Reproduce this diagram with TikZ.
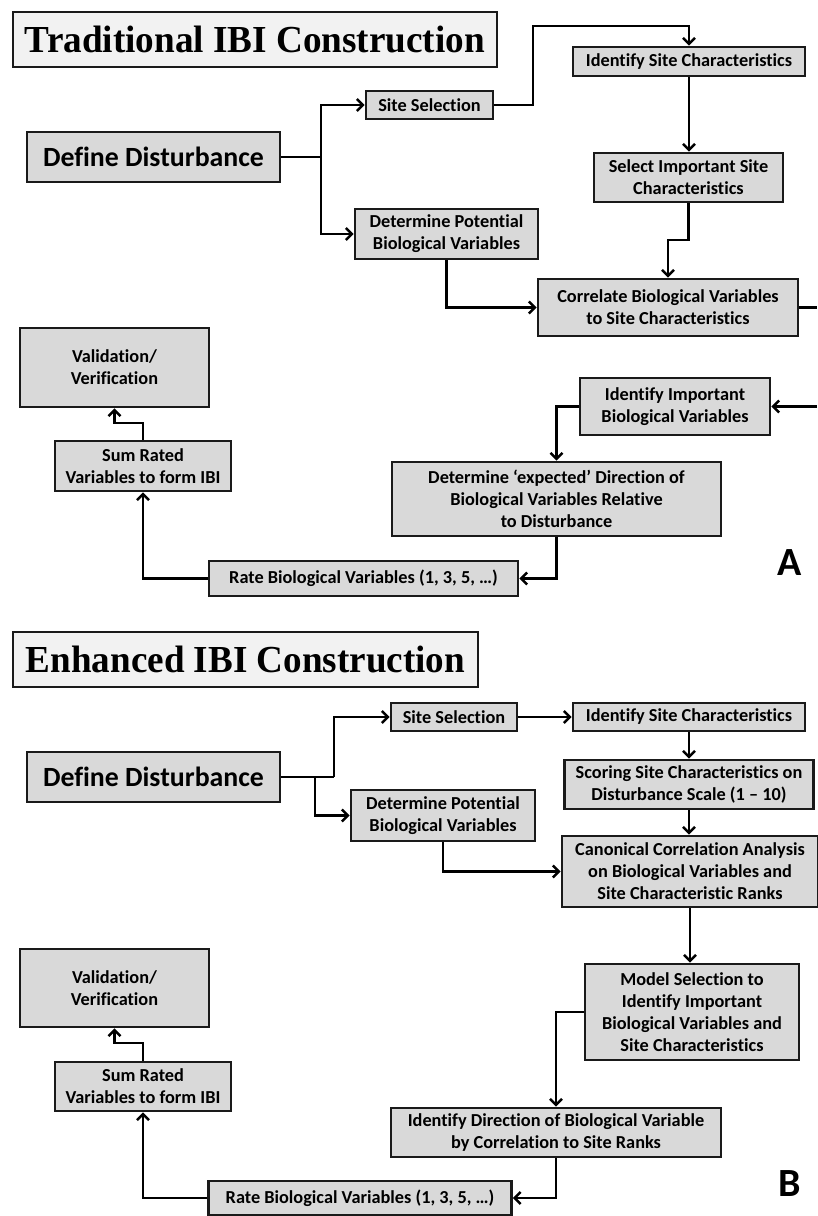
\documentclass[tikz,border=0pt]{standalone}
\usepackage{fontspec}
\usepackage{graphicx}
\setmainfont{Carlito}[Ligatures=NoCommon]
\newfontfamily\ttlfont{Liberation Serif}
\usetikzlibrary{arrows.meta}
\definecolor{boxgray}{HTML}{D9D9D9}
\definecolor{titlegray}{HTML}{F2F2F2}
\definecolor{edgecol}{HTML}{1A1A1A}
\begin{document}
\begin{tikzpicture}[x=1pt,y=-1pt,
  box/.style={draw=edgecol, line width=2.6pt, fill=boxgray, align=center, inner sep=0pt, text=black, font=\bfseries\fontsize{18.3}{22}\selectfont},
  bigbox/.style={box, font=\bfseries\fontsize{27.8}{30}\selectfont},
  ttl/.style={draw=edgecol, line width=2.2pt, fill=titlegray, inner sep=0pt},
  conn/.style={draw=black, line width=2.6pt, line join=miter},
  arr/.style={conn, -{Straight Barb[length=6pt,width=12pt]}},
  lbl/.style={font=\bfseries\fontsize{40}{40}\selectfont, inner sep=0pt}
]
\useasboundingbox (0,0) rectangle (817,1216);
\fill[white] (0,0) rectangle (817,1216);

% ---------------- Part A ----------------
\node[ttl, minimum width=484pt, minimum height=55pt] (titleA) at (255,39.5) {\resizebox{460pt}{26.5pt}{\ttlfont\bfseries Traditional IBI Construction}};
\node[bigbox, minimum width=253pt, minimum height=50pt] (ddA) at (153.5,157) {Define Disturbance};
\node[box, minimum width=127pt, minimum height=28pt] (ssA) at (429.5,105) {Site Selection};
\node[box, minimum width=232pt, minimum height=29pt] (iscA) at (689,61.5) {Identify Site Characteristics};
\node[box, minimum width=189pt, minimum height=49pt] (sisA) at (688.5,177.5) {Select Important Site\\Characteristics};
\node[box, minimum width=183pt, minimum height=50pt] (dpA) at (446.5,234) {Determine Potential\\Biological Variables};
\node[box, minimum width=260pt, minimum height=57pt] (corA) at (668,307.5) {Correlate Biological Variables\\to Site Characteristics};
\node[box, minimum width=189pt, minimum height=79pt] (valA) at (114.5,367.5) {Validation/\\Verification};
\node[box, minimum width=176pt, minimum height=50pt] (sumA) at (143,466) {Sum Rated\\Variables to form IBI};
\node[box, minimum width=309pt, minimum height=35pt] (rateA) at (363.5,578.5) {Rate Biological Variables (1, 3, 5, …)};
\node[box, minimum width=190pt, minimum height=57pt] (iibA) at (675,406.5) {Identify Important\\Biological Variables};
\node[box, minimum width=329pt, minimum height=74pt] (dedA) at (556.5,499) {Determine ‘expected’ Direction of\\Biological Variables Relative\\to Disturbance};
\node[lbl] (labA) at (790,563) {A};

\coordinate (jA) at (321,157);
\coordinate (outA) at (817,307.5);
\coordinate (inA) at (817,406.5);
\draw[conn] (ddA.east) -- (jA);
\draw[arr] (jA) |- (ssA.west);
\draw[arr] (jA) |- (dpA.west);
\draw[arr] (ssA.east) -| (533,26) -| (iscA.north);
\draw[arr] (iscA.south) -- (iscA.south |- sisA.north);
\draw[arr] (sisA.south) |- (668,240) -- (corA.north);
\draw[arr] (dpA.south) |- (corA.west);
\draw[conn] (corA.east) -- (outA);
\draw[arr] (inA) -- (iibA.east);
\draw[arr] (iibA.west) -| (dedA.north);
\draw[arr] (dedA.south) |- (rateA.east);
\draw[arr] (rateA.west) -| (sumA.south);
\draw[arr] (sumA.north) -- (143,423) -| (valA.south);

% ---------------- Part B ----------------
\node[ttl, minimum width=465pt, minimum height=55pt] (titleB) at (245.5,659.5) {\resizebox{439pt}{26.5pt}{\ttlfont\bfseries Enhanced IBI Construction}};
\node[bigbox, minimum width=253pt, minimum height=50pt] (ddB) at (153.5,777) {Define Disturbance};
\node[box, minimum width=126pt, minimum height=28pt] (ssB) at (454,717) {Site Selection};
\node[box, minimum width=232pt, minimum height=28pt] (iscB) at (689,717) {Identify Site Characteristics};
\node[box, minimum width=249pt, minimum height=49pt] (scB) at (689,784.5) {Scoring Site Characteristics on\\Disturbance Scale (1 – 10)};
\node[box, minimum width=184pt, minimum height=51pt] (dpB) at (443,815.5) {Determine Potential\\Biological Variables};
\node[box, minimum width=256pt, minimum height=71pt] (canB) at (690,871.5) {Canonical Correlation Analysis\\on Biological Variables and\\Site Characteristic Ranks};
\node[box, minimum width=214pt, minimum height=96pt] (modB) at (692,1012) {Model Selection to\\Identify Important\\Biological Variables and\\Site Characteristics};
\node[box, minimum width=330pt, minimum height=49pt] (idB) at (556,1132.5) {Identify Direction of Biological Variable\\by Correlation to Site Ranks};
\node[box, minimum width=303pt, minimum height=34pt] (rateB) at (360,1198) {Rate Biological Variables (1, 3, 5, …)};
\node[box, minimum width=176pt, minimum height=49pt] (sumB) at (143,1086.5) {Sum Rated\\Variables to form IBI};
\node[box, minimum width=189pt, minimum height=78pt] (valB) at (114.5,988) {Validation/\\Verification};
\node[lbl] (labB) at (790,1184) {B};

\coordinate (jB1) at (315,777);
\coordinate (jB2) at (334,777);
\draw[conn] (ddB.east) -- (jB2);
\draw[arr] (jB2) |- (ssB.west);
\draw[arr] (jB1) |- (dpB.west);
\draw[arr] (ssB.east) -- (iscB.west);
\draw[arr] (iscB.south) -- (iscB.south |- scB.north);
\draw[arr] (scB.south) -- (scB.south |- canB.north);
\draw[arr] (canB.south) -- (canB.south |- modB.north);
\draw[arr] (dpB.south) |- (canB.west);
\draw[arr] (modB.west) -| (idB.north);
\draw[arr] (idB.south) |- (rateB.east);
\draw[arr] (rateB.west) -| (sumB.south);
\draw[arr] (sumB.north) -- (143,1043) -| (valB.south);
\end{tikzpicture}
\end{document}
